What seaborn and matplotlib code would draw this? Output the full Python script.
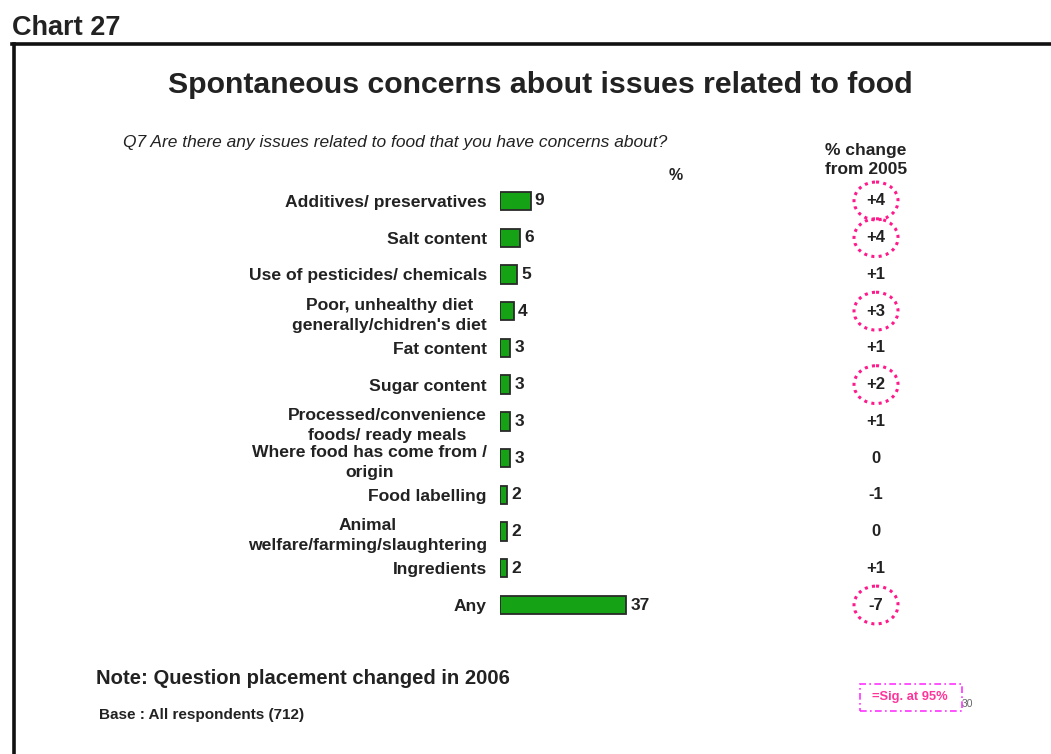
import matplotlib
matplotlib.use("Agg")
import matplotlib.pyplot as plt
import matplotlib.transforms as mtransforms
from matplotlib.patches import Ellipse, Rectangle
from matplotlib.lines import Line2D
import pandas as pd
import seaborn as sns

# Survey results
issues = [
    "Additives/ preservatives",
    "Salt content",
    "Use of pesticides/ chemicals",
    "Poor, unhealthy diet\ngenerally/chidren's diet",
    "Fat content",
    "Sugar content",
    "Processed/convenience\nfoods/ ready meals",
    "Where food has come from /\norigin",
    "Food labelling",
    "Animal\nwelfare/farming/slaughtering",
    "Ingredients",
    "Any",
]
pct = [9, 6, 5, 4, 3, 3, 3, 3, 2, 2, 2, 37]
change = ["+4", "+4", "+1", "+3", "+1", "+2", "+1", "0", "-1", "0", "+1", "-7"]
significant = [True, True, False, True, False, True, False, False, False, False, False, True]

df = pd.DataFrame({"issue": issues, "pct": pct})

sns.set_style("white")
plt.rcParams["font.family"] = ["Liberation Sans", "DejaVu Sans"]

W, H = 1051, 754
fig = plt.figure(figsize=(W / 100, H / 100), dpi=100)

TEXT = "#222222"
GREEN = "#15a315"
PINK = "#ff1a8c"

# bar area: zero at x=500px, 3.41 px per percentage point
left_px, top_px, bottom_px = 500, 182.6, 623.4
xmax = 40
ax = fig.add_axes([left_px / W, 1 - bottom_px / H, 3.41 * xmax / W, (bottom_px - top_px) / H])

sns.barplot(data=df, x="pct", y="issue", orient="h", color=GREEN,
            edgecolor="#2a2a2a", linewidth=1.3, width=0.5, saturation=1, ax=ax)
ax.set_xlim(0, xmax)
ax.set_ylim(len(issues) - 0.5, -0.5)
ax.set_xlabel("")
ax.set_ylabel("")
ax.set_xticks([])
for s in ax.spines.values():
    s.set_visible(False)
ax.tick_params(axis="y", length=0, pad=9.5)
for lbl in ax.get_yticklabels():
    lbl.set_multialignment("center")
    lbl.set_fontweight("bold")
    lbl.set_fontsize(12.6)
    lbl.set_color(TEXT)
    lbl.set_linespacing(1.45)

for cont in ax.containers:
    ax.bar_label(cont, labels=[str(v) for v in pct], padding=3,
                 fontsize=12.5, color=TEXT, fontweight="bold")

# change column
trans = mtransforms.blended_transform_factory(fig.transFigure, ax.transData)
cx = 876 / W
for i, (c, sig) in enumerate(zip(change, significant)):
    ax.text(cx, i, c, transform=trans, ha="center", va="center",
            fontsize=12, fontweight="bold", color=TEXT, clip_on=False)
    if sig:
        e = Ellipse((cx, i), 44 / W, 1.03, transform=trans, fill=False,
                    edgecolor=PINK, linestyle=(0, (1, 1.4)), linewidth=2.2,
                    clip_on=False)
        ax.add_artist(e)

# headers and titles
fig.text(12 / W, 1 - 28 / H, "Chart 27", fontsize=19.5, fontweight="bold",
         color=TEXT, va="center", ha="left")
fig.text(540 / W, 1 - 85 / H, "Spontaneous concerns about issues related to food",
         fontsize=21.8, fontweight="bold", color=TEXT, ha="center", va="center")
fig.text(123 / W, 1 - 142 / H,
         "Q7 Are there any issues related to food that you have concerns about?",
         fontsize=12.5, style="italic", color=TEXT, ha="left", va="center")
fig.text(676 / W, 1 - 176 / H, "%", fontsize=11.5, fontweight="bold",
         color=TEXT, ha="center", va="center")
fig.text(866 / W, 1 - 160 / H, "% change\nfrom 2005", fontsize=12.5, fontweight="bold",
         color=TEXT, ha="center", va="center", linespacing=1.3)
fig.text(96 / W, 1 - 678 / H, "Note: Question placement changed in 2006",
         fontsize=14.6, fontweight="bold", color=TEXT, ha="left", va="center")
fig.text(99 / W, 1 - 715 / H, "Base : All respondents (712)",
         fontsize=11, fontweight="bold", color=TEXT, ha="left", va="center")

# significance key
fig.text(967 / W, 1 - 704 / H, "30", fontsize=7.5, color="#666666",
         ha="center", va="center")
key = Rectangle((860 / W, 1 - 711 / H), 102 / W, 27 / H, transform=fig.transFigure,
                facecolor="white", edgecolor="#ff33ff", linestyle=(0, (4, 2, 1, 2)),
                linewidth=1.2)
fig.add_artist(key)
fig.text(910 / W, 1 - 697 / H, "=Sig. at 95%", fontsize=9.3, fontweight="bold",
         color="#ff3399", ha="center", va="center")

# page frame
fig.add_artist(Line2D([12 / W, 1.0], [1 - 44 / H, 1 - 44 / H], color="#111111",
                      linewidth=2.6, transform=fig.transFigure, solid_capstyle="projecting"))
fig.add_artist(Line2D([13.5 / W, 13.5 / W], [1 - 44 / H, 0.0], color="#111111",
                      linewidth=2.6, transform=fig.transFigure, solid_capstyle="projecting"))

fig.savefig("out.png", dpi=100)
